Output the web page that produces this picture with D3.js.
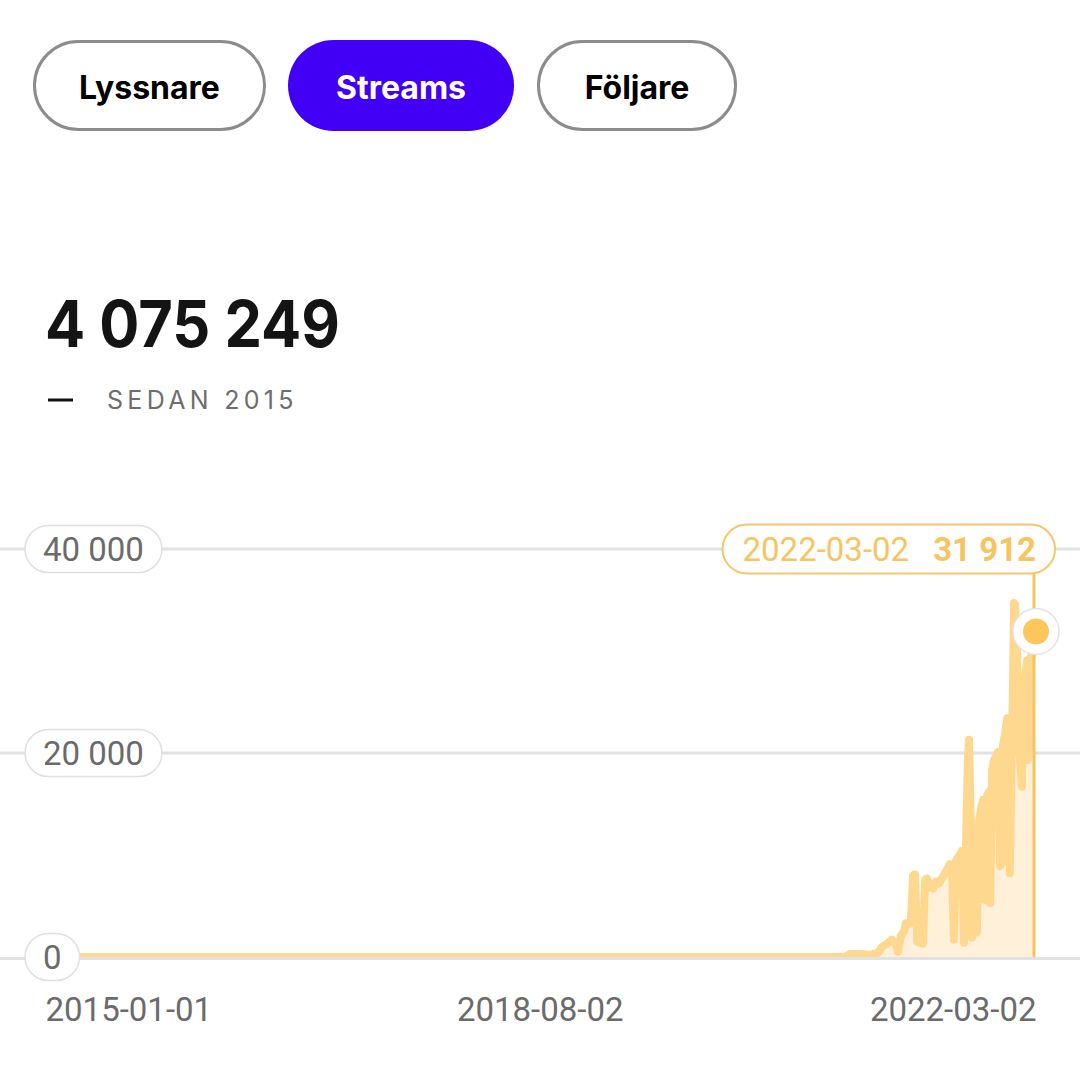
<!DOCTYPE html>
<html>
<head>
<meta charset="utf-8">
<script src="https://cdn.jsdelivr.net/npm/d3@7"></script>
<style>
  html, body { margin: 0; padding: 0; background: #ffffff; }
  svg { display: block; }
</style>
</head>
<body>
<svg id="chart" width="1080" height="1080"></svg>
<script>
// ---------- data ----------
const tabs = ["Lyssnare", "Streams", "Följare"];
const activeTab = "Streams";
const totalStreams = "4 075 249";
const periodLabel = "SEDAN 2015";

const dates = [
  "2015-01-01","2020-10-18","2020-10-31","2020-12-02","2020-12-23","2021-01-13","2021-01-24",
  "2021-02-06","2021-02-19","2021-03-02","2021-03-07","2021-03-15","2021-03-23","2021-03-28",
  "2021-04-05","2021-04-10","2021-04-16","2021-04-21","2021-04-27","2021-05-04","2021-05-12",
  "2021-05-18","2021-05-23","2021-05-28","2021-06-02","2021-06-08","2021-06-16","2021-06-24",
  "2021-07-01","2021-07-09","2021-07-17","2021-07-22","2021-07-28","2021-08-02","2021-08-07",
  "2021-08-13","2021-08-18","2021-08-23","2021-08-29","2021-09-03","2021-09-08","2021-09-11",
  "2021-09-16","2021-09-19","2021-09-24","2021-09-30","2021-10-02","2021-10-07","2021-10-13",
  "2021-10-18","2021-10-23","2021-10-29","2021-11-03","2021-11-06","2021-11-11","2021-11-16",
  "2021-11-21","2021-11-27","2021-12-02","2021-12-07","2021-12-10","2021-12-15","2021-12-21",
  "2021-12-23","2021-12-28","2022-01-03","2022-01-05","2022-01-08","2022-01-11","2022-01-16",
  "2022-01-19","2022-01-24","2022-01-29","2022-02-01","2022-02-06","2022-02-12","2022-02-14",
  "2022-02-17","2022-02-20","2022-02-25","2022-03-02"
];
const streams = [
  0, 0, 300, 300, 200, 400, 1000,
  1300, 1700, 1200, 500, 2100, 2500, 3300,
  3200, 3400, 8000, 8100, 1500, 1400, 1300,
  7600, 7700, 6800, 7200, 6700, 7400, 7200,
  7700, 8200, 8700, 9100, 8800, 1700, 9400,
  9800, 10000, 10400, 1400, 11000, 19300, 21300,
  12500, 1900, 11700, 11900, 2400, 13200, 14600,
  15400, 5600, 15900, 16200, 5300, 18300, 19300,
  19600, 20100, 8900, 9200, 20800, 21800, 23400,
  23000, 8200, 22300, 25200, 34700, 34500, 31100,
  22900, 19300, 16700, 26200, 27200, 29100, 19300,
  20800, 29400, 29600, 31912
];
const yTickValues = [0, 20000, 40000];
const xTickDates = ["2015-01-01", "2018-08-02", "2022-03-02"];
const hoverDate = "2022-03-02";
const hoverValue = 31912;

// ---------- setup ----------
const parse = d3.utcParse("%Y-%m-%d");
const fmtDate = d3.utcFormat("%Y-%m-%d");
const fmtNum = v => d3.format(",")(v).replace(/,/g, " ");
const data = dates.map((d, i) => ({ date: parse(d), value: streams[i] }));

const svg = d3.select("#chart");
const W = 1080;

const x = d3.scaleUtc()
  .domain([parse(xTickDates[0]), parse(xTickDates[2])])
  .range([45, 1034]);
const y = d3.scaleLinear().domain([0, 40000]).range([957, 549]);

// ---------- tabs ----------
const tabGeom = [
  { x: 34.5, w: 230 },
  { x: 288, w: 226 },
  { x: 538.5, w: 197 }
];
const tabG = svg.append("g");
tabs.forEach((t, i) => {
  const active = t === activeTab;
  const g = tabG.append("g");
  g.append("rect")
    .attr("x", tabGeom[i].x).attr("y", active ? 40 : 41.5)
    .attr("width", tabGeom[i].w).attr("height", active ? 91 : 88)
    .attr("rx", active ? 45.5 : 44)
    .attr("fill", active ? "#4100f5" : "#ffffff")
    .attr("stroke", active ? "none" : "#8c8c8c")
    .attr("stroke-width", 3);
  g.append("text")
    .attr("x", tabGeom[i].x + tabGeom[i].w / 2).attr("y", 99)
    .attr("text-anchor", "middle")
    .attr("font-family", "Inter, 'Noto Sans', sans-serif")
    .attr("font-weight", 700).attr("font-size", 32)
    .attr("fill", active ? "#ffffff" : "#000000")
    .text(t);
});

// ---------- headline ----------
svg.append("text")
  .attr("x", 45).attr("y", 347)
  .attr("font-family", "Inter, 'Noto Sans', sans-serif")
  .attr("font-weight", 700).attr("font-size", 65)
  .attr("textLength", 295).attr("lengthAdjust", "spacingAndGlyphs")
  .attr("fill", "#141414")
  .text(totalStreams);

svg.append("line")
  .attr("x1", 48).attr("x2", 73).attr("y1", 400).attr("y2", 400)
  .attr("stroke", "#111").attr("stroke-width", 3);
svg.append("text")
  .attr("x", 107).attr("y", 409)
  .attr("font-family", "Inter, 'Noto Sans', sans-serif")
  .attr("font-weight", 400).attr("font-size", 25)
  .attr("letter-spacing", 4.3)
  .attr("fill", "#6e6e6e")
  .text(periodLabel);

// ---------- gridlines ----------
svg.append("g").selectAll("line")
  .data(yTickValues).join("line")
  .attr("x1", 0).attr("x2", W)
  .attr("y1", d => y(d) + (d === 0 ? 1.5 : 0)).attr("y2", d => y(d) + (d === 0 ? 1.5 : 0))
  .attr("stroke", "#e2e2e2").attr("stroke-width", 3);

// ---------- area + line ----------
svg.append("clipPath").attr("id", "plotclip")
  .append("rect").attr("x", 0).attr("y", 0).attr("width", W).attr("height", y(0));

const area = d3.area().x(d => x(d.date)).y0(y(0)).y1(d => y(d.value));
const line = d3.line().x(d => x(d.date)).y(d => y(d.value));

const plot = svg.append("g").attr("clip-path", "url(#plotclip)");
plot.append("path").datum(data)
  .attr("d", area).attr("fill", "#fff1d9");
plot.append("path").datum(data)
  .attr("d", line).attr("fill", "none")
  .attr("stroke", "#ffd88f").attr("stroke-width", 8)
  .attr("stroke-linejoin", "round").attr("stroke-linecap", "round");

// ---------- y tick pills ----------
const pillG = svg.append("g");
yTickValues.forEach(v => {
  const g = pillG.append("g");
  const rect = g.append("rect");
  const txt = g.append("text")
    .attr("y", y(v) + 12)
    .attr("font-family", "Roboto, sans-serif").attr("font-size", 33)
    .attr("fill", "#6b6b6b").attr("text-anchor", "middle")
    .text(fmtNum(v));
  const w = txt.node().getComputedTextLength() + 36;
  txt.attr("x", 25 + w / 2);
  rect.attr("x", 25).attr("y", y(v) - 23.5)
    .attr("width", w).attr("height", 47).attr("rx", 23.5)
    .attr("fill", "#ffffff").attr("stroke", "#e0e0e0").attr("stroke-width", 1.5);
});

// ---------- x axis ----------
const xAxis = d3.axisBottom(x)
  .tickValues(xTickDates.map(parse))
  .tickSize(0)
  .tickFormat(fmtDate);
const xg = svg.append("g").attr("transform", `translate(0, ${y(0)})`).call(xAxis);
xg.select(".domain").remove();
xg.selectAll("text")
  .attr("font-family", "Roboto, sans-serif").attr("font-size", 33)
  .attr("fill", "#6b6b6b")
  .attr("dy", 0).attr("y", 64)
  .attr("text-anchor", (d, i) => i === 0 ? "start" : (i === xTickDates.length - 1 ? "end" : "middle"))
  .attr("dx", (d, i) => i === xTickDates.length - 1 ? 2 : 0);

// ---------- hover cursor ----------
const hx = x(parse(hoverDate));
const hy = y(hoverValue);
const tipY = y(40000);

svg.append("line")
  .attr("x1", hx).attr("x2", hx).attr("y1", tipY + 24).attr("y2", y(0))
  .attr("stroke", "#f8c35c").attr("stroke-width", 3);

const tip = svg.append("g");
const tipRect = tip.append("rect");
const valText = tip.append("text")
  .attr("y", tipY + 12).attr("x", hx + 2).attr("text-anchor", "end")
  .attr("font-family", "Roboto, sans-serif").attr("font-size", 33)
  .attr("font-weight", 700).attr("fill", "#f7c462")
  .text(fmtNum(hoverValue));
const vw = valText.node().getComputedTextLength();
const dateText = tip.append("text")
  .attr("y", tipY + 12).attr("x", hx + 2 - vw - 24).attr("text-anchor", "end")
  .attr("font-family", "Roboto, sans-serif").attr("font-size", 33)
  .attr("fill", "#f7c462")
  .text(hoverDate);
const dw = dateText.node().getComputedTextLength();
const tipLeft = hx + 2 - vw - 24 - dw - 20;
tipRect.attr("x", tipLeft).attr("y", tipY - 24.5)
  .attr("width", (hx + 21) - tipLeft).attr("height", 49).attr("rx", 24.5)
  .attr("fill", "#ffffff").attr("stroke", "#f6c66e").attr("stroke-width", 2);

svg.append("circle").attr("cx", hx + 2).attr("cy", hy).attr("r", 23)
  .attr("fill", "#ffffff").attr("stroke", "#e4e4e4").attr("stroke-width", 1.5);
svg.append("circle").attr("cx", hx + 2).attr("cy", hy).attr("r", 13)
  .attr("fill", "#ffc65c");
</script>
</body>
</html>
